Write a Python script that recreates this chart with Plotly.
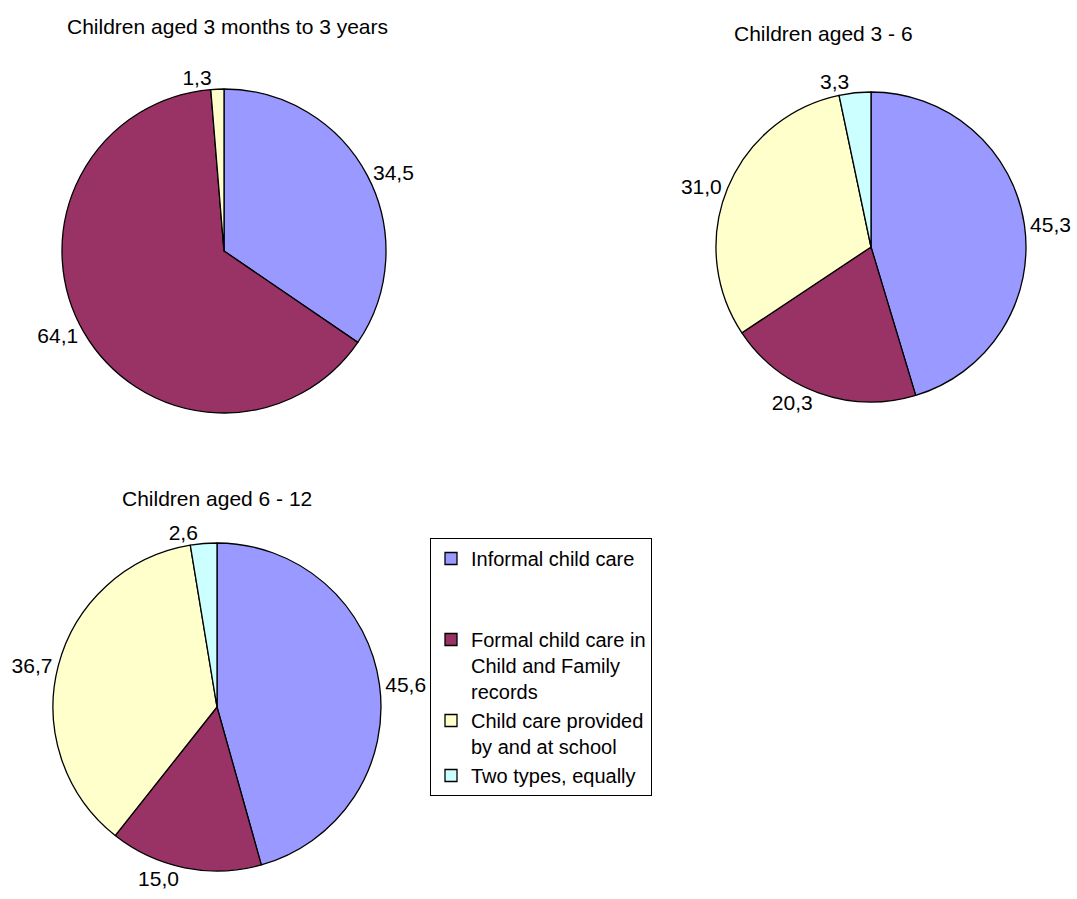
import plotly.graph_objects as go

# ---- data ----
categories = ["Informal child care",
              "Formal child care in Child and Family records",
              "Child care provided by and at school",
              "Two types, equally"]
legend_text = ["Informal child care<br> <br> ",
               "Formal child care in<br>Child and Family<br>records",
               "Child care provided<br>by and at school",
               "Two types, equally"]
colors = ["#9999FF", "#993366", "#FFFFCC", "#CCFFFF"]

titles = ["Children aged 3 months to 3 years", "Children aged 3 - 6", "Children aged 6 - 12"]
values_0_3 = [34.5, 64.1, 1.3]          # no "two types" slice
values_3_6 = [45.3, 20.3, 31.0, 3.3]
values_6_12 = [45.6, 15.0, 36.7, 2.6]

W, H = 1077, 899
FONT = "Liberation Sans, Arial, sans-serif"


def px_dom(cx, cy, r):
    return dict(x=[(cx - r) / W, (cx + r) / W], y=[1 - (cy + r) / H, 1 - (cy - r) / H])


pies = [
    (values_0_3, px_dom(224, 251, 162)),
    (values_3_6, px_dom(871, 247, 155)),
    (values_6_12, px_dom(217, 707, 164)),
]

fig = go.Figure()
for vals, dom in pies:
    n = len(vals)
    fig.add_trace(go.Pie(
        labels=legend_text[:n],
        values=vals,
        marker=dict(colors=colors[:n], line=dict(color="black", width=1.3)),
        sort=False,
        direction="clockwise",
        rotation=0,
        textposition="outside",
        texttemplate="%{value:.1f}",
        outsidetextfont=dict(family=FONT, size=21, color="black"),
        domain=dom,
        hoverinfo="label+value",
        showlegend=True,
    ))

title_pos = [(227, 26), (823, 34), (217, 498)]
for t, (tx, ty) in zip(titles, title_pos):
    fig.add_annotation(text=t, x=tx / W, y=1 - ty / H, xref="paper", yref="paper",
                       xanchor="center", yanchor="middle", showarrow=False,
                       font=dict(family=FONT, size=21, color="black"))

fig.update_layout(
    width=W, height=H,
    margin=dict(l=0, r=0, t=0, b=0),
    paper_bgcolor="white",
    plot_bgcolor="white",
    separators=", ",
    font=dict(family=FONT, size=20, color="black"),
    legend=dict(
        x=430 / W, y=1 - 538 / H, xanchor="left", yanchor="top",
        bordercolor="black", borderwidth=1, bgcolor="white",
        valign="top", traceorder="normal",
        font=dict(family=FONT, size=20, color="black"),
    ),
)

fig.write_html("out.html",
               config={"displayModeBar": False},
               post_script="document.body.style.margin='0';document.body.style.overflow='hidden';")
